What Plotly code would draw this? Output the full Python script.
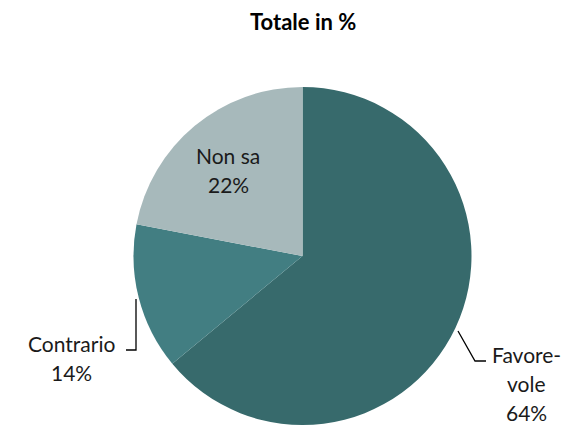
import plotly.graph_objects as go

W, H = 572, 426

categories = ["Favorevole", "Contrario", "Non sa"]
display_labels = [["Favore-", "vole"], ["Contrario"], ["Non sa"]]
values = [64, 14, 22]
colors = ["#376a6c", "#427e82", "#a7b9bb"]
title_text = "Totale in %"

FONT = "Lato, Calibri, Carlito, sans-serif"


def px(x):
    return x / W


def py(y):
    return 1 - y / H


# pie geometry (pixels)
cx, cy, r = 302.5, 256, 169

fig = go.Figure(go.Pie(
    labels=categories,
    values=values,
    sort=False,
    direction="clockwise",
    rotation=0,
    marker=dict(colors=colors, line=dict(width=0)),
    textinfo="none",
    hoverinfo="label+percent",
    showlegend=False,
    domain=dict(x=[px(cx - r), px(cx + r)], y=[py(cy + r), py(cy - r)]),
))

# label positions: centre x and first-line centre y (pixels)
label_pos = [(526, 354), (71, 343), (228, 156)]
LINE = 29
annotations = []
for lab, val, (lx, ly) in zip(display_labels, values, label_pos):
    lines = lab + [f"{val}%"]
    for i, t in enumerate(lines):
        annotations.append(dict(
            text=t, x=px(lx), y=py(ly + i * LINE), xref="paper", yref="paper",
            showarrow=False, xanchor="center", yanchor="middle", align="center",
            font=dict(family=FONT, size=21, color="#1a1a1a"),
        ))

annotations.append(dict(
    text=f"<b>{title_text}</b>", x=px(cx), y=py(22), xref="paper", yref="paper",
    showarrow=False, xanchor="center", yanchor="middle",
    font=dict(family=FONT, size=22, color="#000000"),
))

# leader lines
leaders = [
    [(458, 331), (475, 361), (486, 361)],
    [(136, 299), (136, 350), (126, 350)],
]
shapes = []
for pts in leaders:
    path = "M " + " L ".join(f"{px(x)},{py(y)}" for x, y in pts)
    shapes.append(dict(type="path", path=path, xref="paper", yref="paper",
                       line=dict(color="#000000", width=1.3)))

fig.update_layout(
    width=W, height=H,
    margin=dict(l=0, r=0, t=0, b=0),
    paper_bgcolor="white", plot_bgcolor="white",
    annotations=annotations, shapes=shapes,
)

fig.write_html(
    "out.html",
    config={"displayModeBar": False},
    post_script="document.body.style.margin='0';document.body.style.overflow='hidden';",
)
